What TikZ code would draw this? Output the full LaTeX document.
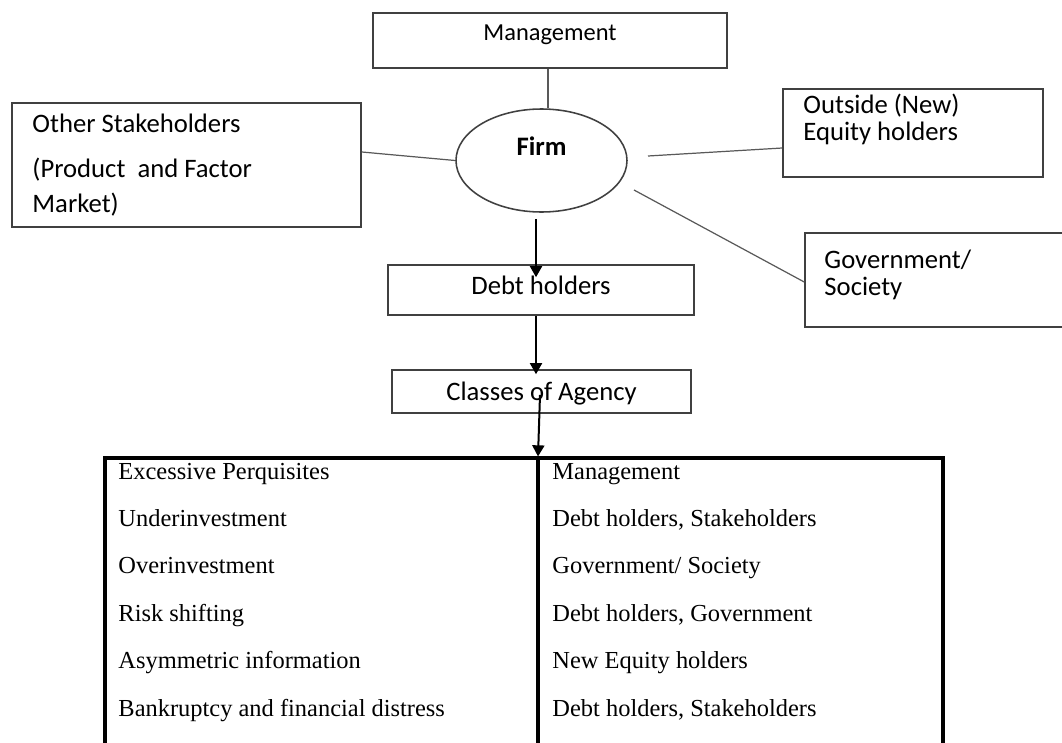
\documentclass[tikz,border=0pt]{standalone}
\usepackage{fontspec}
\setmainfont{Carlito}
\newfontfamily\tnr{Liberation Serif}
\usetikzlibrary{arrows.meta,shapes.geometric}
\definecolor{boxgray}{gray}{0.25}
\definecolor{linegray}{gray}{0.35}
\begin{document}
\begin{tikzpicture}[x=0.45pt,y=-0.45pt,
  box/.style={draw=boxgray, line width=0.7pt, inner sep=0pt, rectangle},
  conn/.style={draw=linegray, line width=0.55pt},
  arr/.style={draw=black, line width=0.9pt, -{Triangle[length=5pt,width=5.4pt]}},
  lbl/.style={inner sep=0pt, anchor=base west, font=\fontsize{12}{14}\selectfont},
  cell/.style={inner sep=0pt, anchor=base west, font=\tnr\fontsize{11}{13}\selectfont},
  tbl/.style={draw=black, line width=1.4pt}]
\useasboundingbox (0,0) rectangle (1062,742);
\clip (0,0) rectangle (1062,742);

% boxes
\node[box, minimum width=159.3pt, minimum height=24.75pt, text height=0pt, text depth=-0.6pt,
      font=\fontsize{11}{13}\selectfont] (mgmt) at (550,40.5) {Management};
\node[box, ellipse, minimum width=76.95pt, minimum height=46.35pt, text height=0pt, text depth=4.2pt,
      font=\bfseries\fontsize{12}{14}\selectfont] (firm) at (541.5,160.5) {Firm};
\node[box, minimum width=157.05pt, minimum height=55.8pt] (other) at (186.5,165) {};
\node[lbl] (other1) at (32,132) {Other Stakeholders};
\node[lbl] (other2) at (32,177) {(Product\ \ and Factor};
\node[lbl] (other3) at (32,212) {Market)};
\node[box, minimum width=117pt, minimum height=39.6pt] (outside) at (913,133) {};
\node[lbl] (out1) at (803,113) {Outside (New)};
\node[lbl] (out2) at (803,140) {Equity holders};
\node[box, minimum width=123.75pt, minimum height=42.3pt] (gov) at (942.5,280) {};
\node[lbl] (gov1) at (824,268) {Government/};
\node[lbl] (gov2) at (824,295) {Society};
\node[box, minimum width=137.7pt, minimum height=22.5pt, text height=3.6pt, text depth=0pt,
      font=\fontsize{12}{14}\selectfont] (debt) at (541,290) {Debt holders};
\node[box, minimum width=134.55pt, minimum height=19.35pt, text height=7.65pt, text depth=0pt,
      font=\fontsize{12}{14}\selectfont] (classes) at (541.5,391.5) {Classes of Agency};

% table
\node[tbl, rectangle, inner sep=0pt, minimum width=377.1pt, minimum height=153.9pt] (table) at (524,629) {};
\coordinate (dv) at (538,0);
\draw[tbl] (table.north -| dv) -- (table.south -| dv);
\foreach \i/\l/\r in {0/{Excessive Perquisites}/{Management},
                      1/{Underinvestment}/{Debt holders, Stakeholders},
                      2/{Overinvestment}/{Government/ Society},
                      3/{Risk shifting}/{Debt holders, Government},
                      4/{Asymmetric information}/{New Equity holders},
                      5/{Bankruptcy and financial distress}/{Debt holders, Stakeholders}}{
  \node[cell] (l\i) at (118,479+47.4*\i) {\l};
  \node[cell] (r\i) at (552,479+47.4*\i) {\r};
}

% connectors
\coordinate (mx) at (548,0);
\draw[conn] (mgmt.south -| mx) -- (firm.north -| mx);
\coordinate (oy) at (0,152);
\draw[conn] (other.east |- oy) -- (firm.west);
\coordinate (fo) at (648,156);
\coordinate (oy2) at (0,148);
\draw[conn] (fo) -- (outside.west |- oy2);
\coordinate (fg) at (634,190);
\coordinate (gy) at (0,282);
\draw[conn] (fg) -- (gov.west |- gy);

% arrows
\coordinate (ax) at (536,0);
\draw[arr] ([yshift=-2.7pt]firm.south -| ax) -- ([yshift=-5.85pt]debt.north -| ax);
\draw[arr] (debt.south -| ax) -- ([yshift=-2.25pt]classes.north -| ax);
\coordinate (c3) at (540,395);
\draw[arr] (c3) -- (table.north -| dv);
\end{tikzpicture}
\end{document}
